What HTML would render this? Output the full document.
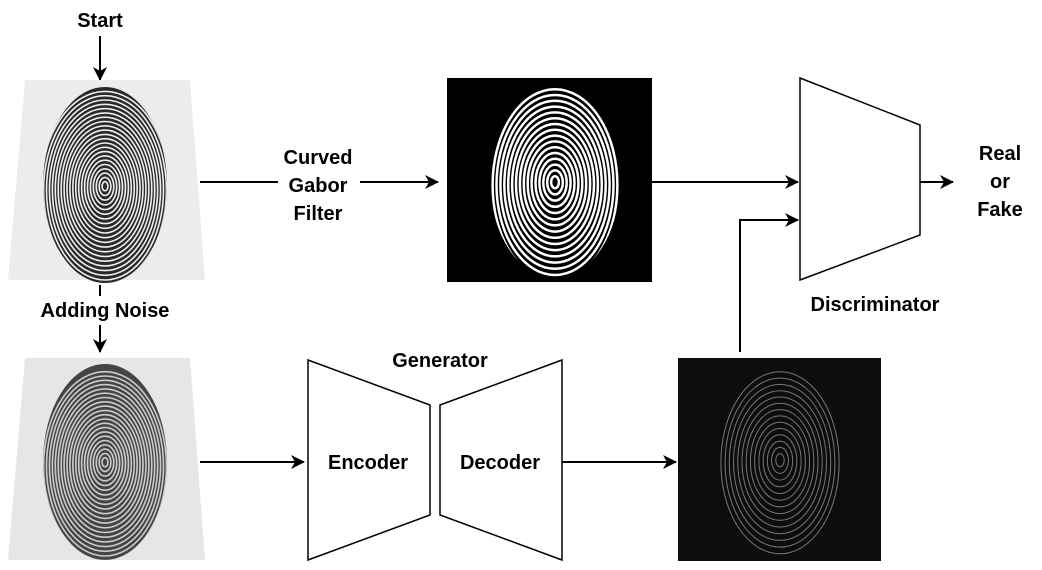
<!DOCTYPE html>
<html style="margin:0;width:1042px;height:570px;overflow:hidden"><head><meta charset="utf-8"><style>
body{margin:0;background:#fff;width:1042px;height:570px;overflow:hidden}
svg{display:block}
text{font-family:"Liberation Sans",sans-serif;font-weight:bold;font-size:20px;fill:#000}
</style></head><body>
<svg id="d" width="1042" height="570" viewBox="0 0 1042 570">
<defs>
<marker id="ah" markerWidth="14" markerHeight="14" refX="13" refY="7" orient="auto" markerUnits="userSpaceOnUse"><path d="M0,0 L14,7 L0,14 L4,7 z" fill="#000"/></marker>
<clipPath id="c1"><ellipse cx="105" cy="185" rx="62" ry="98"/></clipPath>
<clipPath id="c2"><ellipse cx="105" cy="462" rx="62" ry="98"/></clipPath>
<clipPath id="c3"><ellipse cx="555" cy="180" rx="65" ry="98"/></clipPath>
<clipPath id="c4"><rect x="678" y="358" width="203" height="203"/></clipPath>
</defs>
<text x="100" y="27" text-anchor="middle">Start</text>
<line x1="100" y1="36" x2="100" y2="80" stroke="#000" stroke-width="2" marker-end="url(#ah)"/>
<g>
<polygon points="25,80 190,80 205,280 8,280" fill="#ececec"/>
<g id="fp1" clip-path="url(#c1)"><rect x="40" y="87" width="130" height="196" fill="#2a2a2a"/></g>
</g>
<line x1="100" y1="285" x2="100" y2="296" stroke="#000" stroke-width="2"/>
<text x="105" y="317" text-anchor="middle">Adding Noise</text>
<line x1="100" y1="325" x2="100" y2="352" stroke="#000" stroke-width="2" marker-end="url(#ah)"/>
<g>
<polygon points="25,358 190,358 205,560 8,560" fill="#e6e6e6"/>
<g id="fp2" clip-path="url(#c2)"><rect x="40" y="364" width="130" height="196" fill="#444"/></g>
</g>
<line x1="200" y1="182" x2="438" y2="182" stroke="#000" stroke-width="2" marker-end="url(#ah)"/>
<rect x="278" y="140" width="82" height="85" fill="#fff"/>
<text x="318" y="164" text-anchor="middle"><tspan x="318">Curved</tspan><tspan x="318" dy="28">Gabor</tspan><tspan x="318" dy="28">Filter</tspan></text>
<g>
<rect x="447" y="78" width="205" height="204" fill="#000"/>
<g id="fp3" clip-path="url(#c3)"></g>
</g>
<line x1="652" y1="182" x2="798" y2="182" stroke="#000" stroke-width="2" marker-end="url(#ah)"/>
<polygon points="800,78 920,125 920,235 800,280" fill="#fff" stroke="#000" stroke-width="1.5"/>
<text x="875" y="311" text-anchor="middle">Discriminator</text>
<line x1="920" y1="182" x2="953" y2="182" stroke="#000" stroke-width="2" marker-end="url(#ah)"/>
<text x="1000" y="160" text-anchor="middle"><tspan x="1000">Real</tspan><tspan x="1000" dy="28">or</tspan><tspan x="1000" dy="28">Fake</tspan></text>
<polyline points="740,352 740,220 798,220" fill="none" stroke="#000" stroke-width="2" marker-end="url(#ah)"/>
<text x="440" y="367" text-anchor="middle">Generator</text>
<polygon points="308,360 430,405 430,515 308,560" fill="#fff" stroke="#000" stroke-width="1.5"/>
<text x="368" y="469" text-anchor="middle">Encoder</text>
<polygon points="440,405 562,360 562,560 440,515" fill="#fff" stroke="#000" stroke-width="1.5"/>
<text x="500" y="469" text-anchor="middle">Decoder</text>
<line x1="200" y1="462" x2="304" y2="462" stroke="#000" stroke-width="2" marker-end="url(#ah)"/>
<line x1="562" y1="462" x2="676" y2="462" stroke="#000" stroke-width="2" marker-end="url(#ah)"/>
<g>
<rect x="678" y="358" width="203" height="203" fill="#0d0d0d"/>
<g id="fp4" clip-path="url(#c4)"></g>
</g>
</svg>
<script>
var NS='http://www.w3.org/2000/svg';
function rings(id,cx,cy,step,col,w,n){
 var g=document.getElementById(id);
 for(var i=1;i<n;i++){
  var e=document.createElementNS(NS,'ellipse');
  e.setAttribute('cx',cx);e.setAttribute('cy',cy+i*0.2);
  e.setAttribute('rx',i*step*0.65);e.setAttribute('ry',i*step);
  e.setAttribute('fill','none');e.setAttribute('stroke',col);e.setAttribute('stroke-width',w);
  g.appendChild(e);
 }
}
rings('fp1',105,186,4.5,'#eee',1.6,23);
rings('fp2',105,462,4.5,'#ccc',1.6,22);
rings('fp3',555,182,6,'#fff',2.5,17);
rings('fp4',780,460,6.5,'#777',1,15);
</script>
</body></html>
